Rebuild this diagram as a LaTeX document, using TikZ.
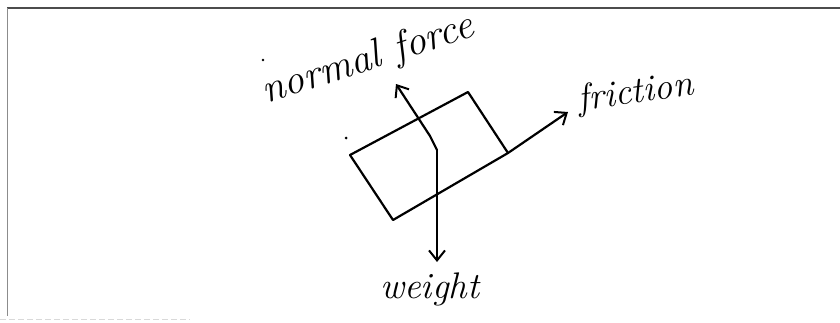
\documentclass[tikz,border=0pt]{standalone}
\usetikzlibrary{arrows.meta}
\begin{document}
\begin{tikzpicture}[x=1pt,y=-1pt,
  pen/.style={line width=2.2pt,line cap=round,line join=round},
  force/.style={pen,-{Straight Barb[length=10pt,width=16pt,line width=2pt]}},
  hand/.style={font=\fontsize{37}{40}\selectfont\itshape,inner sep=0pt}]
\useasboundingbox (0,0) rectangle (840,322);
% frame of the scan
\draw[black!70,line width=1.2pt] (7,8) -- (840,8);
\draw[black!45,line width=0.9pt] (7,8) -- (7,316);
\draw[black!15,line width=0.8pt,dash pattern=on 6pt off 3pt] (0,319) -- (190,319);
% block
\coordinate (L) at (350,155);
\coordinate (T) at (468,92);
\coordinate (R) at (508,153);
\coordinate (B) at (393,220);
\draw[pen] (L) -- (T) -- (R);
\draw[pen] (L) -- (B) -- (R);
% forces
\coordinate (c) at (437,150);
\coordinate (bend) at (430,136);
\coordinate (ntip) at (396,84);
\coordinate (wtip) at (437,262);
\coordinate (ftip) at (568,112);
\draw[force] (c) -- (bend) -- (ntip);
\draw[force] (c) -- (wtip);
\draw[force] (R) -- (ftip);
% labels
\node[hand,anchor=base west,rotate=18,font=\fontsize{41}{44}\selectfont\itshape] (nlab) at (266,104) {normal force};
\node[hand,anchor=base west,rotate=8] (flab) at (579,111) {friction};
\node[hand,anchor=base west] (wlab) at (380,298) {weight};
% specks
\fill (263,60) circle (1.3pt);
\fill (346,138) circle (1.5pt);
\end{tikzpicture}
\end{document}
